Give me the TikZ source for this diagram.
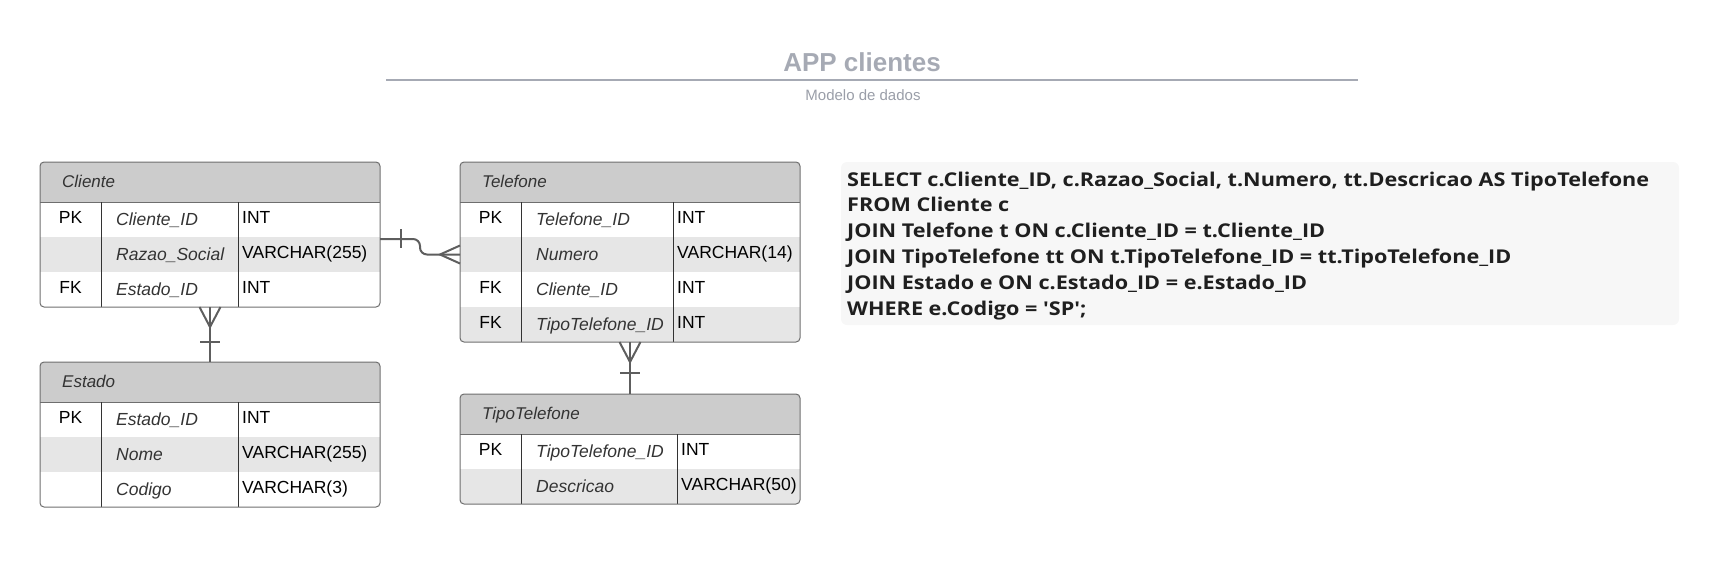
\documentclass[tikz,border=0pt]{standalone}
\usepackage{fontspec}
\setmainfont{Liberation Sans}
\newfontfamily\sqlfont{Open Sans}
\usetikzlibrary{calc}
\definecolor{hdrgray}{HTML}{CCCCCC}
\definecolor{rowgray}{HTML}{E6E6E6}
\definecolor{bordergray}{HTML}{6E6E6E}
\definecolor{colgray}{HTML}{333333}
\definecolor{conngray}{HTML}{5E5E5E}
\definecolor{titlegray}{HTML}{A6AAB4}
\definecolor{subgray}{HTML}{9A9EA8}
\definecolor{sqlfill}{HTML}{F7F7F7}
\definecolor{sqltext}{HTML}{1F1F1F}
\newlength\sqlw
\newcommand\sqlline[1]{\scalebox{\sqlsx}[1]{#1}}
\tikzset{
  tablebox/.style={draw=bordergray, line width=1pt, rounded corners=4pt, inner sep=0pt, outer sep=0pt},
  hdrline/.style={draw=bordergray, line width=1pt},
  colline/.style={draw=colgray, line width=1pt},
  rowbox/.style={inner sep=0pt, outer sep=0pt, draw=none},
  rowA0/.style={},
  rowA1/.style={fill=rowgray},
  keytxt/.style={font=\fontsize{17.5}{20}\selectfont, text=black, inner sep=0pt, anchor=base},
  typtxt/.style={font=\fontsize{17.5}{20}\selectfont, text=black, inner sep=0pt, anchor=base west},
  fldtxt/.style={font=\fontsize{17.5}{20}\selectfont\itshape, text=colgray, inner sep=0pt, anchor=base west},
  hdrtxt/.style={font=\fontsize{17}{20}\selectfont\itshape, text=colgray, inner sep=0pt, anchor=base west},
  conn/.style={draw=conngray, line width=2pt},
  titletxt/.style={font=\fontsize{26}{30}\selectfont\bfseries, text=titlegray, inner sep=0pt, anchor=base},
  subtxt/.style={font=\fontsize{15}{18}\selectfont, text=subgray, inner sep=0pt, anchor=base},
  titleline/.style={draw=titlegray, line width=2pt},
  sqlbox/.style={fill=sqlfill, draw=none, rounded corners=6pt, inner sep=0pt, outer sep=0pt},
  sqltxt/.style={font=\sqlfont\bfseries\fontsize{19}{23}\selectfont, text=sqltext, inner sep=0pt, anchor=base west},
}
% #1 name #2 L #3 T #4 col1 #5 col2 #6 R #7 nrows #8 title #9 rows
\newcommand\ertable[9]{%
  \pgfmathsetmacro\tBot{#3+40+35*#7}%
  \pgfmathsetmacro\tW{#6-#2}%
  \pgfmathsetmacro\tCx{(#2+#6)/2}%
  \pgfmathsetmacro\tKx{(#2+#4)/2}%
  \begin{scope}
    \clip[rounded corners=4pt] (#2,#3) rectangle (#6,\tBot);
    \fill[hdrgray] (#2,#3) rectangle (#6,#3+40);
    \foreach \rkey/\rfld/\rtyp/\rgr [count=\i] in {#9} {
      \pgfmathsetmacro\rc{#3+40+35*(\i-0.5)}
      \node[rowbox, rowA\rgr, minimum width=\tW, minimum height=35] (#1-r\i) at (\tCx,\rc) {};
      \node[keytxt] (#1-k\i) at (\tKx,\rc+3.8) {\rkey};
      \node[fldtxt] (#1-f\i) at (#4+15,\rc+6.3) {\rfld};
      \node[typtxt] (#1-t\i) at (#5+4,\rc+3.8) {\rtyp};
    }
  \end{scope}
  \node[hdrtxt] (#1-h) at (#2+22,#3+25) {#8};
  \draw[hdrline] (#2,#3+40) -- (#6,#3+40);
  \draw[colline] (#4,#3+40) -- (#4,\tBot);
  \draw[colline] (#5,#3+40) -- (#5,\tBot);
  \node[tablebox, minimum width=\tW, minimum height={\tBot-#3}] (#1) at (\tCx,{(#3+\tBot)/2}) {};
}
\begin{document}
\settowidth\sqlw{\sqlfont\bfseries\fontsize{19}{23}\selectfont SELECT c.Cliente\_ID, c.Razao\_Social, t.Numero, tt.Descricao AS TipoTelefone}%
\begin{tikzpicture}[x=1pt,y=-1pt]
\useasboundingbox (0,0) rectangle (1720,563);
\pgfmathsetmacro\sqlsx{802/\sqlw}

% title
\node[titletxt] (title) at (862,71) {APP clientes};
\draw[titleline] (386,80) -- (1358,80);
\node[subtxt] (subtitle) at (863,100.5) {Modelo de dados};

% tables
\ertable{cliente}{40}{162}{101}{238}{380}{3}{Cliente}{PK/Cliente\_ID/INT/0, /Razao\_Social/VARCHAR(255)/1, FK/Estado\_ID/INT/0}
\ertable{estado}{40}{362}{101}{238}{380}{3}{Estado}{PK/Estado\_ID/INT/0, /Nome/VARCHAR(255)/1, /Codigo/VARCHAR(3)/0}
\ertable{telefone}{460}{162}{521}{673}{800}{4}{Telefone}{PK/Telefone\_ID/INT/0, /Numero/VARCHAR(14)/1, FK/Cliente\_ID/INT/0, FK/TipoTelefone\_ID/INT/1}
\ertable{tipo}{460}{394}{521}{677}{800}{2}{TipoTelefone}{PK/TipoTelefone\_ID/INT/0, /Descricao/VARCHAR(50)/1}

% connectors
\coordinate (c1s) at ([yshift=-2pt]cliente-r2.north east);
\draw[conn, rounded corners=7pt] (c1s) -- ++(40,0) |- (telefone-r2.west);
\draw[conn] ([shift={(21pt,10pt)}]c1s) -- ([shift={(21pt,-9pt)}]c1s);
\draw[conn] ([yshift=9pt]telefone-r2.west) -- ([xshift=-20pt]telefone-r2.west) -- ([yshift=-9pt]telefone-r2.west);

\draw[conn] (cliente.south) -- (estado.north);
\draw[conn] ([xshift=-10.5pt]cliente.south) -- ([yshift=-20pt]cliente.south) -- ([xshift=10.5pt]cliente.south);
\draw[conn] ([shift={(-10pt,20pt)}]estado.north) -- ([shift={(10pt,20pt)}]estado.north);

\draw[conn] (telefone.south) -- (tipo.north);
\draw[conn] ([xshift=-10.5pt]telefone.south) -- ([yshift=-20pt]telefone.south) -- ([xshift=10.5pt]telefone.south);
\draw[conn] ([shift={(-10pt,21pt)}]tipo.north) -- ([shift={(10pt,21pt)}]tipo.north);

% SQL
\node[sqlbox, minimum width=838, minimum height=163] (sql) at (1260,243.5) {};
\node[sqltxt] (sql-1) at (847,186) {\sqlline{SELECT c.Cliente\_ID, c.Razao\_Social, t.Numero, tt.Descricao AS TipoTelefone}};
\node[sqltxt] (sql-2) at (847,211.8) {\sqlline{FROM Cliente c}};
\node[sqltxt] (sql-3) at (847,237.6) {\sqlline{JOIN Telefone t ON c.Cliente\_ID = t.Cliente\_ID}};
\node[sqltxt] (sql-4) at (847,263.4) {\sqlline{JOIN TipoTelefone tt ON t.TipoTelefone\_ID = tt.TipoTelefone\_ID}};
\node[sqltxt] (sql-5) at (847,289.2) {\sqlline{JOIN Estado e ON c.Estado\_ID = e.Estado\_ID}};
\node[sqltxt] (sql-6) at (847,315) {\sqlline{WHERE e.Codigo = \textquotesingle SP\textquotesingle;}};
\end{tikzpicture}
\end{document}
